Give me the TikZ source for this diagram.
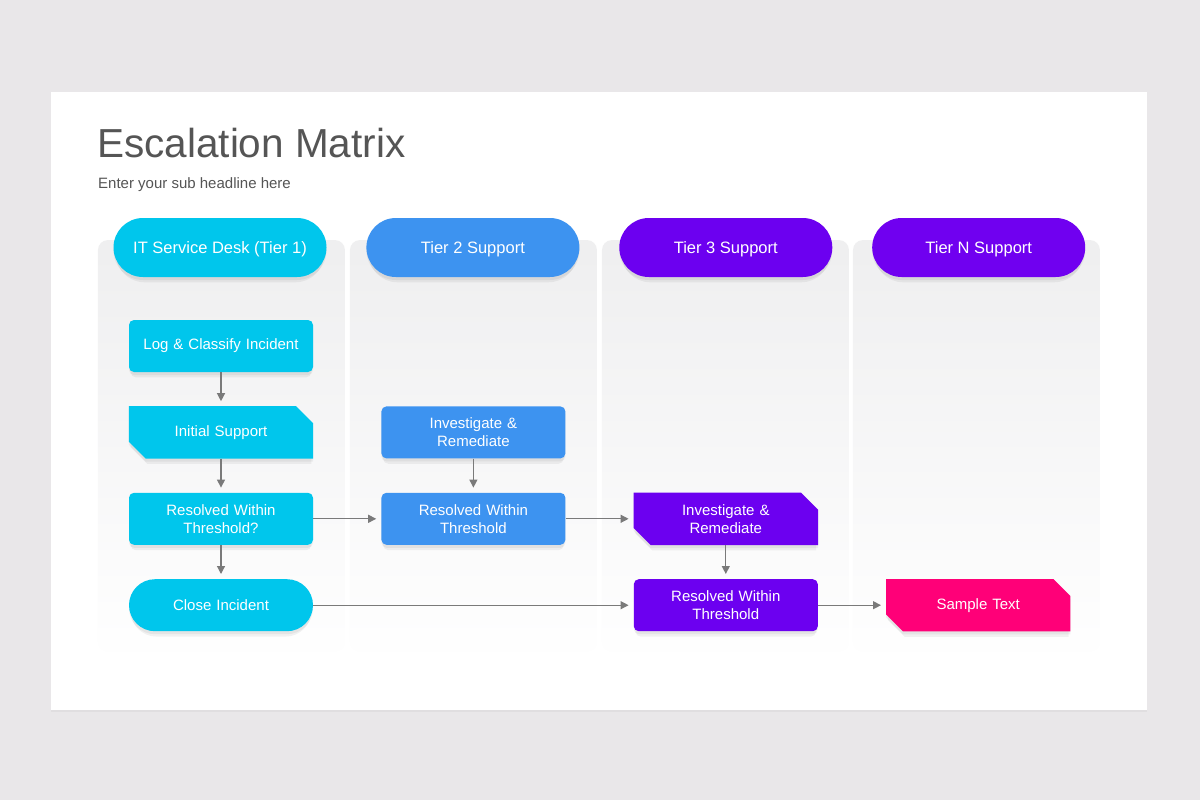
\documentclass[tikz,border=0pt]{standalone}
\usepackage{fontspec}
\setmainfont{Liberation Sans}
\usetikzlibrary{positioning,calc,shadows,arrows.meta,backgrounds,fadings}
\definecolor{pagegrey}{HTML}{E9E7E9}
\definecolor{titlegrey}{HTML}{555555}
\definecolor{lanetop}{HTML}{EFEFF0}
\definecolor{tierone}{HTML}{00C6EC}
\definecolor{tiertwo}{HTML}{3D93F0}
\definecolor{tierthree}{HTML}{6C00F0}
\definecolor{tiern}{HTML}{7000F0}
\definecolor{tiersample}{HTML}{FF0078}
\definecolor{arrowgrey}{HTML}{7A7A7A}
\pgfdeclarelayer{lanes}
\pgfsetlayers{lanes,background,main}
\tikzstyle{softshadow} = [drop shadow={shadow xshift=0pt, shadow yshift=-3pt, opacity=.05, fill=black},
    drop shadow={shadow xshift=0pt, shadow yshift=-6pt, opacity=.05, fill=black, shadow scale=.98}]
\tikzstyle{lane} = [rounded corners=10pt, fill=lanetop, path fading=south, draw=none]
\tikzstyle{header} = [rectangle, rounded corners=29.5pt, minimum width=213pt, minimum height=59pt,
    text height=11.8pt, text depth=0pt, text=white, font=\fontsize{16.5}{19}\selectfont, softshadow]
\tikzstyle{basebox} = [rectangle, rounded corners=5pt, minimum width=184pt, minimum height=52pt,
    text width=176pt, align=center, inner sep=0pt, text=white, font=\fontsize{15}{18}\selectfont]
\tikzstyle{block} = [basebox, softshadow]
\tikzstyle{pill} = [block, rounded corners=26pt]
\tikzstyle{cutblock} = [basebox]
\tikzstyle{arrow} = [-{Triangle[length=8pt,width=8pt]}, line width=1.2pt, arrowgrey, shorten >=5pt]

\begin{document}
\begin{tikzpicture}[x=1pt,y=-1pt,node distance=34pt]
\useasboundingbox (0,0) rectangle (1200,800);

% page, slide and lanes
\begin{pgfonlayer}{lanes}
\fill[pagegrey] (0,0) rectangle (1200,800);
\fill[white, drop shadow={shadow xshift=0pt, shadow yshift=-2pt, opacity=.08}] (51,92) rectangle (1147,710);
\foreach \x in {98,350,602,853}
  \fill[lane] (\x,240) rectangle ++(247,412);
\end{pgfonlayer}

% title
\node[anchor=base west, inner sep=0pt, text=titlegrey, font=\fontsize{40.5}{48}\selectfont] (title) at (97,157) {Escalation Matrix};
\node[anchor=base west, inner sep=0pt, text=titlegrey, font=\fontsize{15}{18}\selectfont] (subtitle) at (98,188) {Enter your sub headline here};

% headers
\node[header, fill=tierone] (h1) at (220,247.5) {IT Service Desk (Tier 1)};
\node[header, fill=tiertwo, right=39.5pt of h1] (h2) {Tier 2 Support};
\node[header, fill=tierthree, right=39.5pt of h2] (h3) {Tier 3 Support};
\node[header, fill=tiern, right=39.5pt of h3] (h4) {Tier N Support};

% steps
\node[block, fill=tierone] (t1a) at (221,346) {Log \& Classify Incident};
\node[cutblock, below=of t1a] (t1b) {Initial Support};
\node[block, fill=tierone, below=of t1b] (t1c) {Resolved Within\\Threshold?};
\node[pill, fill=tierone, below=of t1c] (t1d) {Close Incident};
\node[block, fill=tiertwo, right=68pt of t1b] (t2a) {Investigate \&\\Remediate};
\node[block, fill=tiertwo, below=of t2a] (t2b) {Resolved Within\\Threshold};
\node[cutblock, right=68pt of t2b] (t3a) {Investigate \&\\Remediate};
\node[block, fill=tierthree, below=of t3a] (t3b) {Resolved Within\\Threshold};
\node[cutblock, right=68pt of t3b] (tna) {Sample Text};

% cut corner boxes
\begin{scope}[on background layer]
\foreach \n/\c in {t1b/tierone,t3a/tierthree,tna/tiersample}
  \fill[fill=\c, softshadow] (\n.north west) -- ($(\n.north east)+(-17pt,0)$) -- ($(\n.north east)+(0,-17pt)$)
    -- (\n.south east) -- ($(\n.south west)+(17pt,0)$) -- ($(\n.south west)+(0,17pt)$) -- cycle;
\end{scope}

\draw[arrow] (t1a) -- (t1b);
\draw[arrow] (t1b) -- (t1c);
\draw[arrow] (t1c) -- (t1d);
\draw[arrow] (t2a) -- (t2b);
\draw[arrow] (t3a) -- (t3b);
\draw[arrow] (t1c) -- (t2b);
\draw[arrow] (t2b) -- (t3a);
\draw[arrow] (t1d) -- (t3b);
\draw[arrow] (t3b) -- (tna);
\end{tikzpicture}
\end{document}
